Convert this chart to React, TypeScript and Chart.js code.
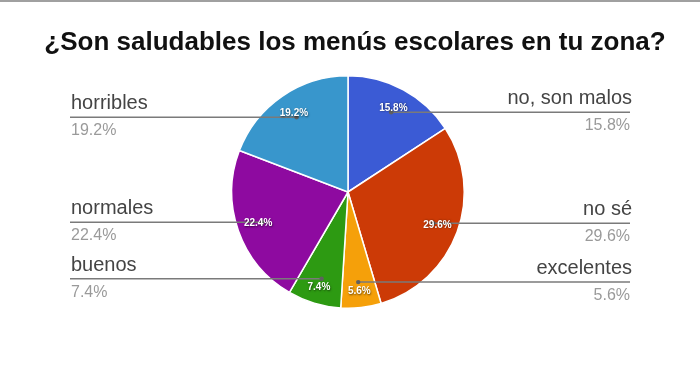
import React, { useEffect, useRef } from "react";
import { Chart, registerables } from "chart.js";

Chart.register(...registerables);

const title = "¿Son saludables los menús escolares en tu zona?";
const categories = ["no, son malos", "no sé", "excelentes", "buenos", "normales", "horribles"];
const values = [15.8, 29.6, 5.6, 7.4, 22.4, 19.2];
const colors = ["#3b5bd5", "#cc3a06", "#f5a00a", "#2d9a12", "#8e0aa0", "#3896cc"];

const FONT = '"Liberation Sans", Arial, Helvetica, sans-serif';

const labelPlugin = {
  id: "outerLabels",
  afterDatasetsDraw(chart: any) {
    const ctx = chart.ctx as CanvasRenderingContext2D;
    const meta = chart.getDatasetMeta(0);
    const total = values.reduce((a, b) => a + b, 0);
    ctx.save();
    // top border strip
    ctx.fillStyle = "#a0a0a0";
    ctx.fillRect(0, 0, chart.width, 2);
    // title
    ctx.fillStyle = "#111";
    ctx.font = `bold 26px ${FONT}`;
    ctx.textAlign = "center";
    ctx.textBaseline = "alphabetic";
    ctx.fillText(title, 355, 50);

    // leader lines and outside labels
    meta.data.forEach((arc: any, i: number) => {
      const { x, y, startAngle, endAngle, outerRadius } = arc.getProps(
        ["x", "y", "startAngle", "endAngle", "outerRadius"],
        true
      );
      const mid = (startAngle + endAngle) / 2;
      const dx = x + Math.cos(mid) * outerRadius * 0.78;
      const dy = y + Math.sin(mid) * outerRadius * 0.78;
      const right = Math.cos(mid) > 0;
      const endX = right ? 630 : 70;
      ctx.strokeStyle = "#7a7a7a";
      ctx.lineWidth = 1.5;
      ctx.beginPath();
      ctx.moveTo(dx, dy);
      ctx.lineTo(endX, dy);
      ctx.stroke();
      ctx.fillStyle = "#606060";
      ctx.beginPath();
      ctx.arc(dx, dy, 2.2, 0, Math.PI * 2);
      ctx.fill();

      ctx.textAlign = right ? "right" : "left";
      const tx = right ? 632 : 71;
      ctx.fillStyle = "#444";
      ctx.font = `20px ${FONT}`;
      ctx.fillText(categories[i], tx, dy - 8);
      ctx.fillStyle = "#9a9a9a";
      ctx.font = `16px ${FONT}`;
      ctx.fillText(((values[i] / total) * 100).toFixed(1) + "%", tx - (right ? 2 : 0), dy + 18);
    });

    // inside percentage labels
    meta.data.forEach((arc: any, i: number) => {
      const { x, y, startAngle, endAngle, outerRadius } = arc.getProps(
        ["x", "y", "startAngle", "endAngle", "outerRadius"],
        true
      );
      const mid = (startAngle + endAngle) / 2;
      const f = values[i] < 10 ? 0.86 : 0.82;
      const lx = x + Math.cos(mid) * outerRadius * f;
      const ly = y + Math.sin(mid) * outerRadius * f;
      ctx.font = `bold 10px ${FONT}`;
      ctx.textAlign = "center";
      ctx.textBaseline = "middle";
      ctx.shadowColor = "rgba(0,0,0,0.6)";
      ctx.shadowBlur = 2;
      ctx.shadowOffsetX = 0.5;
      ctx.shadowOffsetY = 0.5;
      ctx.fillStyle = "#ffffff";
      ctx.fillText(((values[i] / total) * 100).toFixed(1) + "%", lx, ly);
      ctx.shadowColor = "transparent";
    });
    ctx.restore();
  },
};

export default function App() {
  const ref = useRef<HTMLCanvasElement | null>(null);
  useEffect(() => {
    if (!ref.current) return;
    const chart = new Chart(ref.current, {
      type: "pie",
      data: {
        labels: categories,
        datasets: [
          {
            data: values,
            backgroundColor: colors,
            borderColor: "#ffffff",
            borderWidth: 1.5,
          },
        ],
      },
      options: {
        responsive: false,
        animation: false,
        layout: { padding: { left: 231, right: 235, top: 75, bottom: 73 } },
        plugins: {
          legend: { display: false },
          title: { display: false },
          tooltip: { enabled: false },
        },
      },
      plugins: [labelPlugin],
    });
    return () => chart.destroy();
  }, []);
  return (
    <div style={{ position: "absolute", left: 0, top: 0, width: 700, height: 382, background: "#fff" }}>
      <canvas ref={ref} width={700} height={382} style={{ width: 700, height: 382 }} />
    </div>
  );
}
